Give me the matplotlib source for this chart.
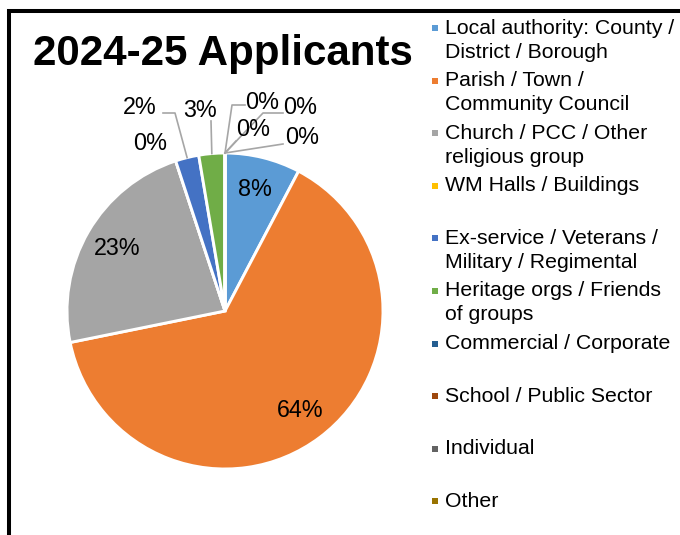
import matplotlib.pyplot as plt
from matplotlib.patches import Rectangle
from matplotlib.lines import Line2D
import numpy as np

plt.rcParams['font.family'] = ['Liberation Sans', 'DejaVu Sans']

# --- DATA ---
categories = ["Local authority: County /\nDistrict / Borough",
              "Parish / Town /\nCommunity Council",
              "Church / PCC / Other\nreligious group",
              "WM Halls / Buildings",
              "Ex-service / Veterans /\nMilitary / Regimental",
              "Heritage orgs / Friends\nof groups",
              "Commercial / Corporate",
              "School / Public Sector",
              "Individual",
              "Other"]
counts = [29, 241, 87, 0, 9, 10, 0, 0, 0, 0]
colors = ['#5B9BD5', '#ED7D31', '#A5A5A5', '#FFC000', '#4472C4',
          '#70AD47', '#255E91', '#9E480E', '#636363', '#997300']

W, H = 680, 535
fig = plt.figure(figsize=(W / 100, H / 100), dpi=100)


def d(x, y):
    # pixel position -> pie data coords (centre 225,311, radius 158 px)
    return (x - 225) / 158, (311 - y) / 158


# pie axes: 400x400 px box around the centre
ax = fig.add_axes([25 / W, 1 - 511 / H, 400 / W, 400 / H])
wedges, _ = ax.pie(counts, colors=colors, startangle=90, counterclock=False,
                   wedgeprops=dict(edgecolor='white', linewidth=2.1))
lim = 200 / 158
ax.set_xlim(-lim, lim)
ax.set_ylim(-lim, lim)
ax.set_aspect('equal')
ax.axis('off')

total = sum(counts)
pcts = ["%d%%" % round(100 * c / total) for c in counts]


def mid(i, r=1.0):
    w = wedges[i]
    a = np.deg2rad((w.theta1 + w.theta2) / 2)
    return r * np.cos(a), r * np.sin(a)


# labels inside the big slices
for i in (0, 1, 2):
    x, y = mid(i, 0.79)
    ax.text(x, y, pcts[i], ha='center', va='center', fontsize=16.8, color='black')

# small slices: text position + leader line elbows (pixel coords)
small = [
    (3, (150, 143), []),
    (4, (140, 108), [(163, 113), (175, 113)]),
    (5, (200, 110), [(211, 121)]),
    (6, (262, 102), [(245, 105), (232, 105)]),
    (7, (300, 108), [(283, 113), (263, 113)]),
    (8, (253, 130), [(236, 141)]),
    (9, (302, 137), [(283, 144)]),
]
for i, tpos, elbows in small:
    tx, ty = d(*tpos)
    ax.text(tx, ty, pcts[i], ha='center', va='center', fontsize=16.8, color='black')
    if elbows:
        pts = [d(*p) for p in elbows] + [mid(i, 1.0)]
        xs, ys = zip(*pts)
        ax.plot(xs, ys, color='#A6A6A6', lw=1.2, clip_on=False)

# title
fig.text(223 / W, 1 - 54 / H, '2024-25 Applicants', ha='center', va='center',
         fontsize=30.3, fontweight='bold')

# legend drawn by hand, two lines per entry slot
for i, (lab, c) in enumerate(zip(categories, colors)):
    y = 28 + i * 52.6
    fig.add_artist(Rectangle((432 / W, 1 - (y + 3) / H), 6 / W, 6 / H,
                             facecolor=c, edgecolor='none'))
    for j, line in enumerate(lab.split('\n')):
        fig.text(445 / W, 1 - (y + 24 * j) / H, line, ha='left', va='center',
                 fontsize=15.3)

# black frame on left and top
fig.add_artist(Line2D([9 / W, 9 / W, 1.01], [-0.01, 1 - 11 / H, 1 - 11 / H],
                      color='black', lw=2.9, solid_joinstyle='miter'))

fig.savefig('out.png', dpi=100)
